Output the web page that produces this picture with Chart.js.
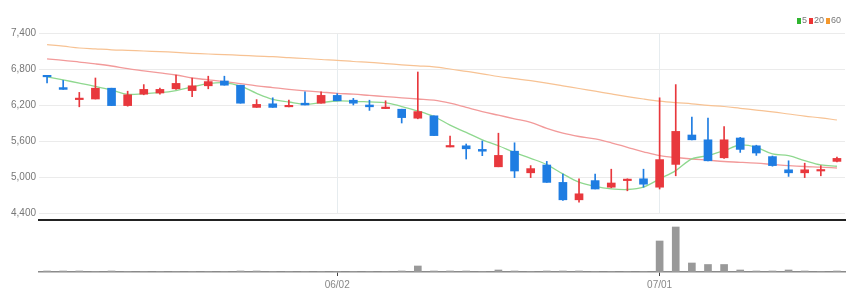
<!DOCTYPE html>
<html>
<head>
<meta charset="utf-8">
<script src="https://cdn.jsdelivr.net/npm/chart.js@4.4.1/dist/chart.umd.min.js"></script>
<style>
  html, body { margin:0; padding:0; background:#fff; }
  #wrap { position:relative; width:863px; height:306px; overflow:hidden; }
  #price { position:absolute; left:0; top:0; }
  #vol { position:absolute; left:0; top:210px; }
  #legend { position:absolute; left:797px; top:15px; display:flex; align-items:center;
            font-family:'Liberation Sans Narrow','Liberation Sans',sans-serif; font-size:9px; color:#777; line-height:11px; }
  #legend .it { display:flex; align-items:center; margin-right:2px; }
  #legend .sq { width:4px; height:6px; margin-right:1px; }
</style>
</head>
<body>
<div id="wrap">
  <canvas id="price" width="863" height="222"></canvas>
  <canvas id="vol" width="863" height="96"></canvas>
  <div id="legend">
    <div class="it"><span class="sq" style="background:#2fb52f"></span>5</div>
    <div class="it"><span class="sq" style="background:#ee3434"></span>20</div>
    <div class="it"><span class="sq" style="background:#f5982c"></span>60</div>
  </div>
</div>
<script>
const dates = ['05/06','05/09','05/10','05/11','05/12','05/13','05/16','05/17','05/18','05/19',
  '05/20','05/23','05/24','05/25','05/26','05/27','05/30','05/31','06/02','06/03',
  '06/07','06/08','06/09','06/10','06/13','06/14','06/15','06/16','06/17','06/20',
  '06/21','06/22','06/23','06/24','06/27','06/28','06/29','06/30','07/01','07/04',
  '07/05','07/06','07/07','07/08','07/11','07/12','07/13','07/14','07/15','07/18'];
const tickDates = ['06/02','07/01'];
const yTicks = [4400, 5000, 5600, 6200, 6800, 7400];

const open  = [6690,6490,6290,6300,6480,6190,6380,6400,6470,6440,6520,6600,6530,6160,6220,6170,6230,6230,6360,6280,6200,6140,6130,5980,6020,5500,5520,5460,5170,5430,5070,5200,4910,4620,4940,4830,4940,4970,4830,5210,5700,5620,5320,5650,5520,5340,5120,5070,5100,5260];
const close = [6670,6460,6310,6480,6190,6370,6460,6460,6560,6520,6590,6530,6230,6210,6160,6190,6200,6360,6270,6230,6170,6160,5990,6090,5690,5520,5470,5430,5360,5100,5140,4910,4620,4720,4800,4900,4960,4880,5290,5760,5620,5270,5620,5460,5400,5190,5070,5120,5120,5310];
const high  = [6690,6610,6410,6650,6480,6430,6540,6480,6700,6650,6680,6680,6530,6290,6320,6280,6420,6420,6390,6310,6280,6270,6130,6750,6020,5680,5550,5600,5730,5570,5190,5260,5050,4970,5050,5130,4970,5130,6320,6540,6000,5980,5840,5660,5530,5350,5270,5230,5190,5330];
const low   = [6570,6460,6170,6300,6190,6180,6370,6380,6460,6340,6470,6530,6230,6160,6160,6170,6200,6230,6270,6200,6110,6140,5900,5970,5690,5500,5300,5355,5170,4990,4990,4910,4610,4580,4800,4820,4770,4830,4800,5020,5620,5270,5310,5410,5360,5180,5010,4990,5020,5250];
const volume = [100,100,100,40,100,40,40,40,40,40,40,40,100,100,40,40,40,40,40,40,40,40,100,600,100,100,100,40,200,100,40,100,100,100,40,40,40,40,3100,4500,900,750,750,200,100,100,200,100,40,100];
const ma5  = [6670,6618,6565,6510,6450,6378,6390,6405,6440,6500,6555,6571,6515,6394,6295,6250,6212,6240,6267,6262,6251,6240,6174,6101,6008,5864,5743,5620,5521,5411,5312,5206,5052,4914,4843,4803,4792,4832,4969,5107,5301,5356,5439,5533,5494,5384,5356,5273,5201,5179];
const ma20 = [6970,6945,6915,6885,6850,6805,6770,6735,6700,6650,6620,6590,6555,6520,6490,6460,6435,6415,6395,6380,6360,6340,6320,6300,6280,6230,6160,6090,6030,5970,5910,5810,5730,5675,5635,5570,5495,5420,5355,5325,5300,5280,5258,5245,5230,5210,5190,5175,5165,5150];
const ma60 = [7205,7180,7150,7135,7120,7110,7100,7090,7078,7062,7050,7040,7028,7015,7005,6990,6975,6958,6945,6925,6910,6890,6870,6852,6835,6800,6760,6720,6675,6640,6605,6565,6520,6475,6430,6385,6340,6300,6265,6240,6220,6195,6175,6145,6115,6085,6050,6015,5985,5950];

const RED = '#e8383d', BLUE = '#1f7de2';
const candleColor = ctx => close[ctx.dataIndex] >= open[ctx.dataIndex] ? RED : BLUE;
const isTick = i => tickDates.includes(dates[i]);
const FONT = "'Liberation Sans Narrow','Liberation Sans',sans-serif";

new Chart(document.getElementById('price'), {
  type: 'bar',
  data: {
    labels: dates,
    datasets: [
      { label:'body', data: open.map((o,i)=>[o, close[i]]), backgroundColor: candleColor,
        barThickness: 8, minBarLength: 1.5, grouped: false, order: 1 },
      { label:'wick', data: low.map((l,i)=>[l, high[i]]), backgroundColor: candleColor,
        barThickness: 1, minBarLength: 1, grouped: false, order: 2 },
      { type:'line', label:'5', data: ma5, borderColor:'#8fd88f', borderWidth:1.3, pointRadius:0, tension:0.35, order: 3 },
      { type:'line', label:'20', data: ma20, borderColor:'#f29a9a', borderWidth:1.3, pointRadius:0, tension:0.35, order: 4 },
      { type:'line', label:'60', data: ma60, borderColor:'#f7c293', borderWidth:1.2, pointRadius:0, tension:0.35, order: 5 }
    ]
  },
  options: {
    responsive: false, animation: false,
    layout: { padding: { left: 0, right: 18, top: 33, bottom: 8 } },
    plugins: { legend: { display: false }, tooltip: { enabled: false } },
    scales: {
      x: {
        offset: true,
        grid: { offset: false, drawTicks: false, color: c => isTick(c.index) ? '#e6ecef' : 'rgba(0,0,0,0)' },
        border: { display: false },
        ticks: { display: false, autoSkip: false }
      },
      y: {
        min: 4400, max: 7400,
        afterBuildTicks: s => { s.ticks = yTicks.map(v => ({ value: v })); },
        afterFit: s => { s.width = 39; },
        grid: { drawTicks: false, color: '#ebebeb' },
        border: { display: false },
        ticks: { padding: 3, color: '#777', font: { family: FONT, size: 10 },
                 callback: v => Number(v).toLocaleString('en-US') }
      }
    }
  }
});

new Chart(document.getElementById('vol'), {
  type: 'bar',
  data: {
    labels: dates,
    datasets: [
      { label:'vol', data: volume, backgroundColor:'#999999', barThickness: 7, grouped: false }
    ]
  },
  options: {
    responsive: false, animation: false,
    layout: { padding: { left: 39, right: 18, top: 10, bottom: 14 } },
    plugins: { legend: { display: false }, tooltip: { enabled: false } },
    scales: {
      x: {
        offset: true,
        afterFit: s => { s.height = 20; },
        grid: { offset: false, drawOnChartArea: false, drawTicks: true, tickLength: 4,
                color: c => isTick(c.index) ? '#444' : 'rgba(0,0,0,0)' },
        border: { display: true, color: '#8a8a8a', width: 1.5 },
        ticks: { autoSkip: false, maxRotation: 0, padding: 3, color: '#888',
                 font: { family: FONT, size: 10 },
                 callback: (v, i) => isTick(i) ? dates[i] : '' }
      },
      x2: {
        type: 'category', position: 'top', offset: true,
        afterFit: s => { s.height = 0; },
        grid: { display: false, drawTicks: false },
        border: { display: true, color: '#222', width: 2 },
        ticks: { display: false }
      },
      y: { display: false, min: 0, max: 5200 }
    }
  }
});
</script>
</body>
</html>
